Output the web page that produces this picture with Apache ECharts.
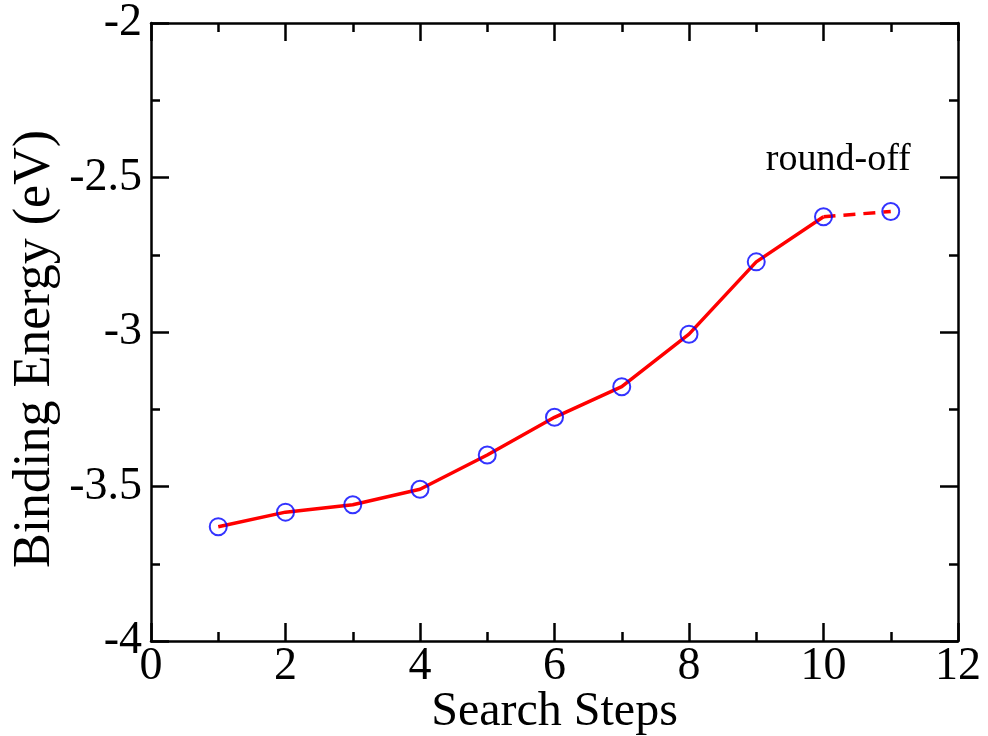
<!DOCTYPE html>
<html>
<head>
<meta charset="utf-8">
<title>Binding Energy vs Search Steps</title>
<script src="https://cdn.jsdelivr.net/npm/echarts@6/dist/echarts.min.js"></script>
<style>
  html, body { margin: 0; padding: 0; background: #fff; }
  #chart { width: 988px; height: 736px; }
</style>
</head>
<body>
<div id="chart"></div>
<script>
// Search step index and the binding energy (eV) found at each step
const steps = [1, 2, 3, 4, 5, 6, 7, 8, 9, 10, 11];
const energy = [-3.630, -3.583, -3.559, -3.509, -3.398, -3.276, -3.177, -3.007, -2.773, -2.627, -2.610];

// Axis ranges and tick spacing
const xRange = { min: 0, max: 12, interval: 2 };
const yRange = { min: -4, max: -2, interval: 0.5 };

// The last step is a round-off step, drawn dashed
const roundOffFrom = 9;

const pairs = steps.map((s, i) => [s, energy[i]]);
const solidPart = pairs.slice(0, roundOffFrom + 1);
const dashedPart = pairs.slice(roundOffFrom);

const FONT = 'Liberation Serif';
const axisLine = { show: true, onZero: false, lineStyle: { color: '#000', width: 2.5 } };
const axisTick = { show: true, inside: true, length: 18, lineStyle: { color: '#000', width: 2.5 } };
const minorTick = { show: true, splitNumber: 2, length: 9, lineStyle: { color: '#000', width: 2.5 } };

function fmt(v) { return String(Math.round(v * 100) / 100); }

const chart = echarts.init(document.getElementById('chart'), null, { renderer: 'canvas' });

chart.setOption({
  animation: false,
  backgroundColor: '#fff',
  grid: { left: 151, right: 30, top: 23, bottom: 95, containLabel: false, outerBoundsMode: 'none' },
  xAxis: [
    {
      type: 'value', position: 'bottom', ...xRange,
      name: 'Search Steps', nameLocation: 'middle', nameGap: 47, nameMoveOverlap: false,
      nameTextStyle: { fontFamily: FONT, fontSize: 48, color: '#000' },
      axisLine, axisTick, minorTick,
      axisLabel: { fontFamily: FONT, fontSize: 46, color: '#000', margin: 3, formatter: fmt },
      splitLine: { show: false }
    },
    {
      type: 'value', position: 'top', ...xRange,
      axisLine, axisTick, minorTick,
      axisLabel: { show: false }, splitLine: { show: false }
    }
  ],
  yAxis: [
    {
      type: 'value', position: 'left', ...yRange,
      name: 'Binding Energy (eV)', nameLocation: 'middle', nameGap: 90, nameRotate: 90, nameMoveOverlap: false,
      nameTextStyle: { fontFamily: FONT, fontSize: 52, color: '#000', padding: [0, 34, 0, 0] },
      axisLine, axisTick, minorTick,
      axisLabel: { fontFamily: FONT, fontSize: 46, color: '#000', margin: 9, formatter: fmt },
      splitLine: { show: false }
    },
    {
      type: 'value', position: 'right', ...yRange,
      axisLine, axisTick, minorTick,
      axisLabel: { show: false }, splitLine: { show: false }
    }
  ],
  series: [
    {
      name: 'energy', type: 'line', data: solidPart,
      showSymbol: false, symbol: 'none', z: 2,
      lineStyle: { color: '#ff0000', width: 3.5 }
    },
    {
      name: 'round-off', type: 'line', data: dashedPart,
      showSymbol: false, symbol: 'none', z: 2,
      lineStyle: { color: '#ff0000', width: 3.5, type: [12, 8] }
    },
    {
      name: 'steps', type: 'scatter', data: pairs,
      symbol: 'circle', symbolSize: 17, z: 3,
      itemStyle: { color: 'rgba(0,0,0,0)', borderColor: '#0000ff', borderWidth: 2 }
    }
  ]
});

// Annotation above the round-off step
const labelPos = chart.convertToPixel({ xAxisIndex: 0, yAxisIndex: 0 }, [10.22, -2.443]);
chart.setOption({
  graphic: [{
    type: 'text', x: labelPos[0], y: labelPos[1],
    style: {
      text: 'round-off', fontFamily: FONT, fontSize: 38, fill: '#000',
      align: 'center', verticalAlign: 'middle'
    }
  }]
});
</script>
</body>
</html>
